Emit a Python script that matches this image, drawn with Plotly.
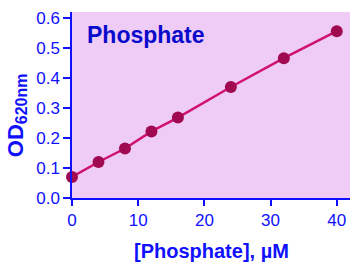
import plotly.graph_objects as go

conc = [0, 4, 8, 12, 16, 24, 32, 40]
od = [0.070, 0.120, 0.165, 0.222, 0.268, 0.370, 0.466, 0.556]
x_ticks = [0, 10, 20, 30, 40]
y_ticks = [0.0, 0.1, 0.2, 0.3, 0.4, 0.5, 0.6]
y_tick_text = ["0.0", "0.1", "0.2", "0.3", "0.4", "0.5", "0.6"]

blue = "#1010FF"
font = "Liberation Sans, Arial, sans-serif"

fig = go.Figure()
fig.add_trace(go.Scatter(
    x=conc, y=od, mode="lines+markers",
    line=dict(color="#D01070", width=2.5),
    marker=dict(color="#A00850", size=12),
    cliponaxis=False, showlegend=False,
))

fig.update_layout(
    width=363, height=267,
    margin=dict(l=72, r=13, t=12, b=69),
    paper_bgcolor="white",
    plot_bgcolor="#EECCF5",
    font=dict(family=font, color=blue, size=17),
    xaxis=dict(
        range=[0, 42], tickvals=x_ticks, showgrid=False, zeroline=False,
        showline=True, linecolor=blue, linewidth=1.5, automargin=False,
        ticks="outside", ticklen=6, tickcolor=blue, tickwidth=1.5,
        tickfont=dict(size=17, color=blue),
    ),
    yaxis=dict(
        range=[0, 0.62], tickvals=y_ticks, ticktext=y_tick_text, showgrid=False, zeroline=False,
        showline=True, linecolor=blue, linewidth=1.5, automargin=False,
        ticks="outside", ticklen=7, tickcolor=blue, tickwidth=1.5,
        tickfont=dict(size=17, color=blue),
    ),
    annotations=[
        dict(
            x=0.045, y=0.875, xref="paper", yref="paper", xanchor="left", yanchor="middle",
            text="<b>Phosphate</b>", showarrow=False,
            font=dict(size=23, color="#0A0ACC", family=font),
        ),
        dict(
            x=0.5, y=0, xref="paper", yref="paper", xanchor="center", yanchor="middle",
            yshift=-53, text="<b>[Phosphate], µM</b>", showarrow=False,
            font=dict(size=20, color=blue, family=font),
        ),
        dict(
            x=0, y=0.445, xref="paper", yref="paper", xanchor="center", yanchor="middle",
            xshift=-55, textangle=-90,
            text="<b>OD<sub><span style='font-size:16px'>620nm</span></sub></b>", showarrow=False,
            font=dict(size=22, color=blue, family=font),
        ),
    ],
)

fig.write_html("out.html")
